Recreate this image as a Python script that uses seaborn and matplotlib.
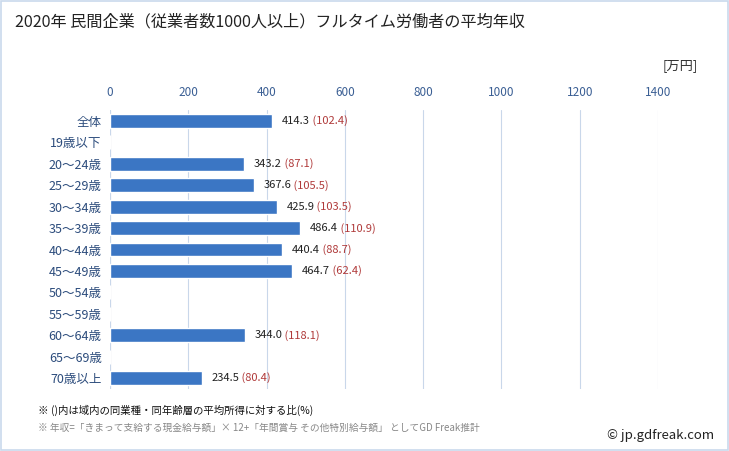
import numpy as np
import pandas as pd
import matplotlib
matplotlib.use("Agg")
import matplotlib.pyplot as plt
import seaborn as sns

# Data (None = no data shown)
categories = ["全体", "19歳以下", "20〜24歳", "25〜29歳", "30〜34歳", "35〜39歳",
              "40〜44歳", "45〜49歳", "50〜54歳", "55〜59歳", "60〜64歳", "65〜69歳", "70歳以上"]
income = [414.3, None, 343.2, 367.6, 425.9, 486.4, 440.4, 464.7, None, None, 344.0, None, 234.5]
ratio = [102.4, None, 87.1, 105.5, 103.5, 110.9, 88.7, 62.4, None, None, 118.1, None, 80.4]
xticks = [0, 200, 400, 600, 800, 1000, 1200, 1400]

df = pd.DataFrame({"category": categories,
                   "income": [v if v is not None else 0 for v in income]})

sns.set_style("white")
plt.rcParams['font.family'] = ['Noto Sans CJK JP', 'DejaVu Sans']

fig = plt.figure(figsize=(7.29, 4.51), dpi=100)
ax = fig.add_axes([0.1509, 0.1381, 0.7517, 0.6173])

sns.barplot(data=df, x="income", y="category", orient="h", color="#3b76c4",
            saturation=1, width=0.65, ax=ax, zorder=3)

ax.set_xlim(0, 1400)
ax.set_xticks(xticks)
ax.xaxis.tick_top()
ax.tick_params(axis="x", length=0, labelsize=8.5, labelcolor="#3b5f94", pad=8)
ax.tick_params(axis="y", length=0, labelsize=9, labelcolor="#2c4c7c", pad=6)
ax.set_xlabel("")
ax.set_ylabel("")
ax.grid(axis="x", color="#c9d7ea", linewidth=0.8, zorder=0)
for s in ax.spines.values():
    s.set_visible(False)
ax.axvline(0, color="#c9d7ea", linewidth=0.8, zorder=1)

# value labels
for i, (v, r) in enumerate(zip(income, ratio)):
    if v is None:
        continue
    t = ax.annotate(f"{v:.1f}", (v, i), xytext=(7, 0), textcoords="offset points",
                    va="center", ha="left", fontsize=8, color="#222222")
    fig.canvas.draw()
    bb = t.get_window_extent()
    ax.annotate(f" ({r:.1f})", (bb.x1, (bb.y0 + bb.y1) / 2), xycoords="figure pixels",
                va="center", ha="left", fontsize=8, color="#b03a3a")

fig.text(15 / 729, 1 - 22 / 451, "2020年 民間企業（従業者数1000人以上）フルタイム労働者の平均年収",
         fontsize=11.6, va="center", ha="left", color="#222222")
fig.text(698 / 729, 1 - 66 / 451, "[万円]", fontsize=9.5, va="center", ha="right", color="#333333")
fig.text(38 / 729, 1 - 410 / 451, "※ ()内は域内の同業種・同年齢層の平均所得に対する比(%)",
         fontsize=7.5, va="center", ha="left", color="#111111")
fig.text(38 / 729, 1 - 428 / 451,
         "※ 年収=「きまって支給する現金給与額」× 12+「年間賞与 その他特別給与額」 としてGD Freak推計",
         fontsize=7, va="center", ha="left", color="#888888")
fig.text(714 / 729, 1 - 436 / 451, "© jp.gdfreak.com", fontsize=9.5, va="center", ha="right",
         color="#222222")

# outer border
fig.patches.append(plt.Rectangle((0.001, 0.002), 0.997, 0.996, transform=fig.transFigure,
                                 fill=False, edgecolor="#c9d9ec", linewidth=1.2))

fig.savefig("out.png", dpi=100)
